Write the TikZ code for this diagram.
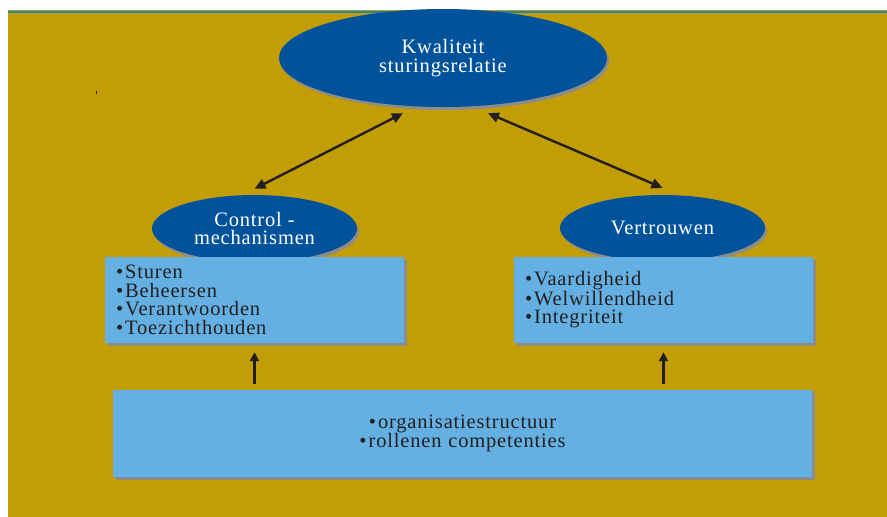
\documentclass[tikz,border=0pt]{standalone}
\usepackage{fontspec}
\setmainfont{Liberation Serif}[LetterSpace=4]
\usetikzlibrary{shapes.geometric,arrows.meta,shadows,calc}
\definecolor{bggold}{HTML}{C29D03}
\definecolor{topline}{HTML}{1E86B4}
\definecolor{elblue}{HTML}{00529B}
\definecolor{boxblue}{HTML}{64B0E2}
\definecolor{shadowgray}{HTML}{8C8C8C}
\definecolor{ink}{HTML}{231F20}
\tikzset{
  txt/.style={font=\fontsize{20.5}{18.5}\selectfont},
  oval/.style={ellipse, fill=elblue, text=white, inner sep=0pt, align=center, txt,
    drop shadow={shadow xshift=2pt, shadow yshift=-3pt, fill=shadowgray, opacity=1}},
  infobox/.style={rectangle, fill=boxblue, text=ink, inner sep=0pt, inner xsep=11pt, txt,
    drop shadow={shadow xshift=2.5pt, shadow yshift=-3pt, fill=shadowgray, opacity=1}},
  dbl/.style={draw=ink, line width=2.4pt, {Triangle[length=11pt,width=10pt]}-{Triangle[length=11pt,width=10pt]}},
  uparrow/.style={draw=ink, line width=3pt, -{Triangle[length=9pt,width=9pt]}}
}
\newcommand{\bul}{\textbullet\hspace{2pt}}
\begin{document}
\begin{tikzpicture}[x=1pt,y=-1pt]
\useasboundingbox (0,0) rectangle (887,517);
\fill[white] (0,0) rectangle (887,517);
\fill[bggold] (8,10) rectangle (887,517);
\fill[topline] (8,11) rectangle (887,13.3);
\fill[ink] (95.5,91) rectangle (97,93.5);

\node[oval, minimum width=328pt, minimum height=98pt] (top) at (443,58) {Kwaliteit\\sturingsrelatie};
\node[oval, minimum width=205pt, minimum height=67pt] (control) at (254.5,228.5) {Control -\\mechanismen};
\node[oval, minimum width=205pt, minimum height=66pt] (vertr) at (662.5,228) {Vertrouwen};

\node[infobox, minimum width=299pt, minimum height=86pt, text width=277pt, align=left] (lbox) at (254.5,300)
  {\bul Sturen\\\bul Beheersen\\\bul Verantwoorden\\\bul Toezichthouden};
\node[infobox, minimum width=299pt, minimum height=86pt, text width=277pt, align=left] (rbox) at (663.5,300)
  {\bul Vaardigheid\\\bul Welwillendheid\\\bul Integriteit};
\node[infobox, minimum width=699pt, minimum height=87pt, text width=677pt, align=center,
  drop shadow={shadow xshift=1.5pt, shadow yshift=-1pt, fill=shadowgray, opacity=1}] (bottom) at (462.5,433.5)
  {\bul organisatiestructuur\\\bul rollenen competenties};

\draw[dbl] ($(top.south)+(-40pt,-6pt)$) -- ($(control.north)+(0pt,6pt)$);
\draw[dbl] ($(top.south)+(45pt,-6pt)$) -- ($(vertr.north)+(0pt,7pt)$);

\draw[uparrow] ($(bottom.north -| lbox.south)+(0pt,6pt)$) -- ($(lbox.south)+(0pt,-9pt)$);
\draw[uparrow] ($(bottom.north -| rbox.south)+(0pt,6pt)$) -- ($(rbox.south)+(0pt,-9pt)$);
\end{tikzpicture}
\end{document}
